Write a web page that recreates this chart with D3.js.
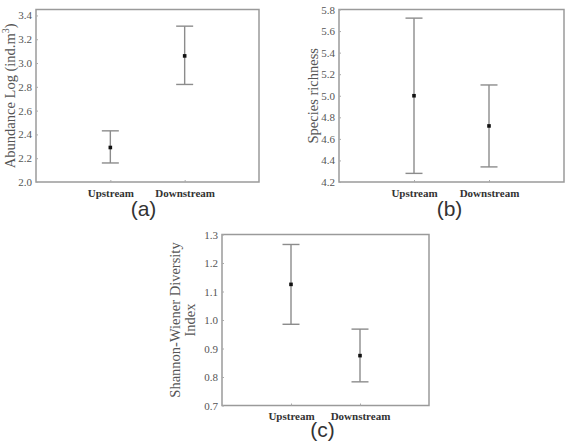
<!DOCTYPE html>
<html>
<head>
<meta charset="utf-8">
<script src="https://cdn.jsdelivr.net/npm/d3@7"></script>
<style>
  body { margin: 0; background: #fff; }
  .tick text { font-family: "Liberation Serif", serif; font-size: 11px; fill: #555; }
  .ytitle { font-family: "Liberation Serif", serif; font-size: 14.5px; fill: #555; }
  .panel-label { font-family: "Liberation Sans", Arial, sans-serif; font-size: 21px; fill: #333; }
</style>
</head>
<body>
<div class="chart"></div>
<script>
var svgWidth = 565;
var svgHeight = 447;

// groups on the x axis
var groups = ["Upstream", "Downstream"];

// (a) abundance, mean and whiskers
var abundanceMean = [2.29, 3.06];
var abundanceLow = [2.16, 2.82];
var abundanceHigh = [2.43, 3.31];
var abundanceTicks = [2.0, 2.2, 2.4, 2.6, 2.8, 3.0, 3.2, 3.4];

// (b) species richness
var richnessMean = [5.0, 4.72];
var richnessLow = [4.28, 4.34];
var richnessHigh = [5.72, 5.10];
var richnessTicks = [4.2, 4.4, 4.6, 4.8, 5.0, 5.2, 5.4, 5.6, 5.8];

// (c) Shannon-Wiener diversity
var diversityMean = [1.125, 0.875];
var diversityLow = [0.985, 0.783];
var diversityHigh = [1.265, 0.968];
var diversityTicks = [0.7, 0.8, 0.9, 1.0, 1.1, 1.2, 1.3];

var svg = d3.select(".chart")
  .append("svg")
  .attr("width", svgWidth)
  .attr("height", svgHeight);

function drawPanel(p) {
  var g = svg.append("g");

  var x = d3.scalePoint()
    .domain(groups)
    .range([p.left, p.right])
    .padding(1);

  var y = d3.scaleLinear()
    .domain(p.domain)
    .range([p.bottom, p.top]);

  // frame
  g.append("rect")
    .attr("x", p.left)
    .attr("y", p.top)
    .attr("width", p.right - p.left)
    .attr("height", p.bottom - p.top)
    .attr("fill", "none")
    .attr("stroke", "#9a9a9a")
    .attr("stroke-width", 1.5);

  // y axis
  var leftAxis = d3.axisLeft(y)
    .tickValues(p.ticks)
    .tickFormat(d3.format(".1f"))
    .tickSize(-2)
    .tickPadding(4);
  var ya = g.append("g")
    .attr("transform", `translate(${p.left}, 0)`)
    .call(leftAxis);
  ya.select(".domain").remove();
  ya.selectAll(".tick line").attr("stroke", "#aaa");

  // x axis
  var bottomAxis = d3.axisBottom(x)
    .tickSize(-2)
    .tickPadding(7);
  var xa = g.append("g")
    .attr("transform", `translate(0, ${p.bottom})`)
    .call(bottomAxis);
  xa.select(".domain").remove();
  xa.selectAll(".tick line").attr("stroke", "#aaa");
  xa.selectAll(".tick text")
    .style("font-weight", "bold")
    .style("fill", "#333");

  // error bars
  var cap = 8.5;
  groups.forEach(function(grp, i) {
    var cx = x(grp);
    g.append("line")
      .attr("x1", cx).attr("x2", cx)
      .attr("y1", y(p.low[i])).attr("y2", y(p.high[i]))
      .attr("stroke", "#8c8c8c").attr("stroke-width", 1.4);
    [p.low[i], p.high[i]].forEach(function(v) {
      g.append("line")
        .attr("x1", cx - cap).attr("x2", cx + cap)
        .attr("y1", y(v)).attr("y2", y(v))
        .attr("stroke", "#8c8c8c").attr("stroke-width", 1.4);
    });
    g.append("rect")
      .attr("x", cx - 1.8).attr("y", y(p.mean[i]) - 1.8)
      .attr("width", 3.6).attr("height", 3.6)
      .attr("fill", "#111");
  });

  // y title
  var t = g.append("text")
    .attr("class", "ytitle")
    .attr("transform", `translate(${p.titleX}, ${(p.top + p.bottom) / 2}) rotate(-90)`)
    .attr("text-anchor", "middle");
  p.title(t);

  // panel label
  g.append("text")
    .attr("class", "panel-label")
    .attr("x", (p.left + p.right) / 2 + p.labelDx)
    .attr("y", p.labelY)
    .attr("text-anchor", "middle")
    .text(p.label);
}

drawPanel({
  left: 36, right: 259, top: 9.5, bottom: 182,
  domain: [2.0, 3.45], ticks: abundanceTicks,
  mean: abundanceMean, low: abundanceLow, high: abundanceHigh,
  titleX: 15,
  title: function(t) {
    t.append("tspan").text("Abundance Log (ind.m");
    t.append("tspan").attr("dy", -6).style("font-size", "10px").text("3");
    t.append("tspan").attr("dy", 6).text(")");
  },
  label: "(a)", labelDx: -4, labelY: 216
});

drawPanel({
  left: 339, right: 564, top: 9.5, bottom: 182,
  domain: [4.2, 5.8], ticks: richnessTicks,
  mean: richnessMean, low: richnessLow, high: richnessHigh,
  titleX: 318,
  title: function(t) { t.text("Species richness"); },
  label: "(b)", labelDx: -2, labelY: 216
});

drawPanel({
  left: 222, right: 429, top: 234.5, bottom: 405.5,
  domain: [0.7, 1.3], ticks: diversityTicks,
  mean: diversityMean, low: diversityLow, high: diversityHigh,
  titleX: 180,
  title: function(t) {
    t.append("tspan").attr("x", 0).attr("dy", 0).text("Shannon-Wiener Diversity");
    t.append("tspan").attr("x", 0).attr("dy", 15).text("Index");
  },
  label: "(c)", labelDx: -3, labelY: 437
});
</script>
</body>
</html>
